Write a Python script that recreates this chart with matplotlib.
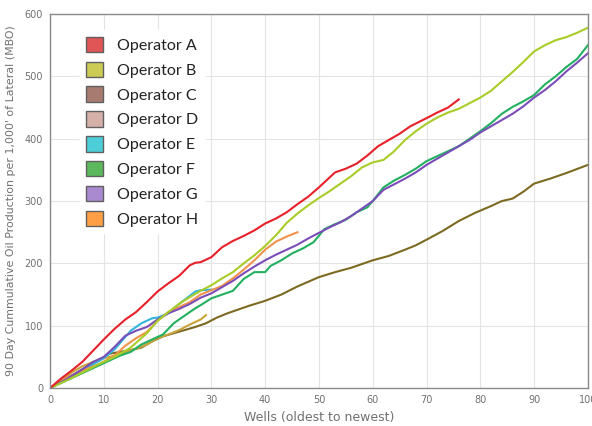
import matplotlib
matplotlib.use("Agg")
import matplotlib.pyplot as plt
from matplotlib.patches import Patch

# data: wells (oldest to newest) and cumulative MBO
a_wells = [0, 2, 4, 6, 8, 10, 12, 14, 16, 18, 20, 22, 24, 26, 27, 28, 29, 30, 32, 34, 36, 38, 40,
           42, 44, 46, 48, 50, 52, 53, 55, 57, 59, 61, 63, 65, 67, 70, 72, 74, 76]
a_vals = [0, 15, 28, 42, 60, 78, 95, 110, 122, 138, 155, 168, 180, 197, 201, 202, 206, 210, 226, 236,
          244, 253, 264, 272, 282, 295, 307, 322, 338, 346, 352, 360, 373, 388, 398, 408, 420, 433,
          442, 450, 463]

b_wells = [0, 3, 6, 9, 12, 15, 18, 20, 22, 24, 26, 28, 30, 32, 34, 36, 38, 40, 42, 44, 46, 48, 50,
           52, 54, 56, 58, 60, 62, 64, 66, 68, 70, 72, 74, 76, 78, 80, 82, 84, 86, 88, 90, 92, 94,
           96, 98, 100]
b_vals = [0, 12, 25, 38, 50, 65, 88, 108, 122, 135, 146, 156, 165, 176, 186, 200, 213, 228, 245,
          265, 280, 293, 305, 316, 328, 340, 354, 362, 366, 380, 398, 412, 424, 434, 442, 448, 457,
          466, 477, 492, 507, 523, 540, 550, 558, 563, 570, 578]

c_wells = [0, 3, 6, 9, 11, 13, 15, 17, 19, 21, 23, 25, 27, 29, 31, 33, 35, 37, 40, 43, 46, 50, 53,
           56, 60, 63, 66, 68, 70, 73, 76, 79, 82, 84, 86, 88, 90, 93, 96, 100]
c_vals = [0, 15, 30, 44, 55, 58, 61, 65, 75, 83, 88, 93, 98, 104, 113, 120, 126, 132, 140, 150, 163,
          178, 186, 193, 205, 212, 222, 229, 238, 252, 268, 281, 292, 300, 304, 315, 328, 336, 345,
          358]

d_wells = [0, 2, 4, 6, 8, 10, 12, 14, 16, 18, 20, 22, 24, 26, 28, 29]
d_vals = [0, 12, 25, 35, 42, 48, 52, 58, 63, 70, 80, 86, 93, 102, 110, 117]

e_wells = [0, 3, 6, 8, 10, 12, 14, 15, 17, 19, 20, 22, 24, 26, 27, 28, 30]
e_vals = [0, 15, 28, 38, 48, 62, 82, 92, 104, 112, 113, 120, 135, 148, 155, 157, 158]

f_wells = [0, 3, 6, 10, 13, 15, 17, 19, 21, 22, 23, 25, 27, 28, 30, 32, 34, 36, 38, 40, 41, 43, 45,
           47, 49, 51, 53, 55, 57, 59, 60, 62, 64, 66, 68, 70, 72, 74, 76, 78, 80, 82, 84, 86, 88,
           90, 92, 94, 96, 98, 100]
f_vals = [0, 12, 24, 40, 52, 58, 70, 78, 86, 95, 104, 116, 128, 133, 144, 150, 156, 175, 186, 186,
          196, 205, 216, 224, 234, 255, 263, 270, 282, 290, 300, 322, 333, 342, 352, 364, 372, 380,
          388, 400, 412, 425, 440, 451, 460, 470, 487, 500, 515, 528, 550]

g_wells = [0, 3, 6, 8, 10, 12, 14, 16, 18, 20, 22, 24, 26, 28, 30, 32, 34, 36, 38, 40, 42, 44, 46,
           48, 50, 52, 54, 56, 58, 60, 62, 64, 66, 68, 70, 72, 74, 76, 78, 80, 82, 84, 86, 88, 90,
           92, 94, 96, 98, 100]
g_vals = [0, 14, 30, 42, 50, 66, 84, 92, 98, 110, 120, 127, 135, 145, 152, 162, 172, 184, 195, 205,
          214, 222, 230, 240, 249, 258, 266, 276, 288, 300, 318, 327, 336, 346, 358, 368, 378, 388,
          398, 410, 420, 430, 440, 452, 466, 478, 492, 508, 522, 537]

h_wells = [0, 3, 6, 9, 12, 14, 16, 18, 20, 22, 24, 26, 28, 30, 32, 34, 36, 38, 40, 42, 44, 46]
h_vals = [0, 16, 28, 38, 52, 68, 80, 90, 108, 122, 130, 138, 150, 157, 164, 176, 190, 205, 222, 235,
          243, 250]

names = ["Operator A", "Operator B", "Operator C", "Operator D",
         "Operator E", "Operator F", "Operator G", "Operator H"]
series = [(a_wells, a_vals), (b_wells, b_vals), (c_wells, c_vals), (d_wells, d_vals),
          (e_wells, e_vals), (f_wells, f_vals), (g_wells, g_vals), (h_wells, h_vals)]
line_colors = ["#e8202a", "#a8cc28", "#7d6a22", "#c9a43a",
               "#33b5dc", "#22b060", "#7a4db8", "#f0924a"]
legend_colors = ["#e05555", "#cccc55", "#a87b70", "#d4b0a8",
                 "#4ccdd8", "#5cb85c", "#a98ad0", "#ff9f45"]

fig = plt.figure(figsize=(5.92, 4.26), dpi=100)
ax = fig.add_axes([0.0845, 0.089, 0.9085, 0.878])

# draw order: back ones first
order = [2, 3, 4, 7, 5, 6, 1, 0]
for i in order:
    w, v = series[i]
    ax.plot(w, v, color=line_colors[i], lw=1.5, solid_joinstyle="round")

ax.set_xlim(0, 100)
ax.set_ylim(0, 600)
ax.set_xticks(range(0, 101, 10))
ax.set_yticks(range(0, 601, 100))
ax.grid(True, color="#e4e4e4", lw=0.8)
ax.set_axisbelow(True)
ax.tick_params(length=0, labelsize=7, labelcolor="#707070", pad=5)
for s in ax.spines.values():
    s.set_color("#8a8a8a")
    s.set_linewidth(1.0)

ax.set_xlabel("Wells (oldest to newest)", fontsize=9, color="#707070", labelpad=4)
ax.set_ylabel("90 Day Cummulative Oil Production per 1,000' of Lateral (MBO)",
              fontsize=7.9, color="#707070", labelpad=6)

handles = [Patch(facecolor=c, edgecolor="#606060", lw=1.0) for c in legend_colors]
leg = ax.legend(handles, names, loc="upper left", bbox_to_anchor=(0.04, 0.978),
                frameon=True, fancybox=False, edgecolor="white", facecolor="white",
                framealpha=1, prop={"family": "Lato", "size": 11.5},
                handlelength=1.1, handleheight=1.1, handletextpad=0.85,
                labelspacing=0.55, borderpad=0.4)
for t in leg.get_texts():
    t.set_color("#222222")

fig.savefig("out.png", dpi=100)
